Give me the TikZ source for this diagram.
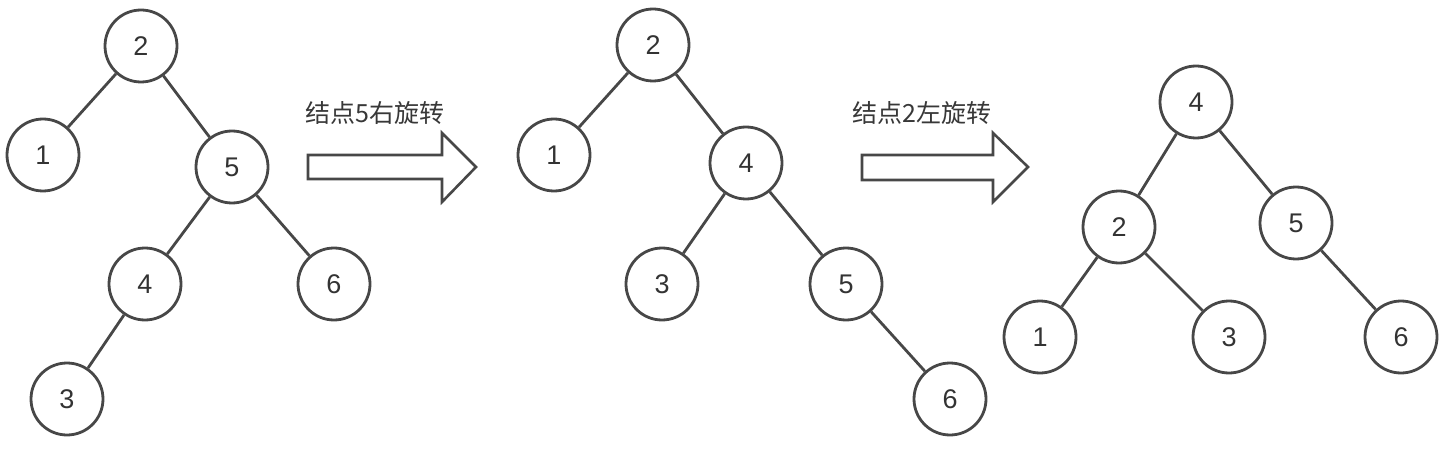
\documentclass[tikz,border=0pt]{standalone}
\usepackage{fontspec}
\setmainfont{Liberation Sans}
\newfontfamily\cjk{Noto Sans CJK SC}
\begin{document}
\begin{tikzpicture}[x=1pt,y=-1pt,
  tn/.style={circle,draw=black!72,line width=2.8pt,minimum size=72pt,inner sep=0pt,
    font=\fontsize{27pt}{27pt}\selectfont,text=black!80},
  edge/.style={draw=black!72,line width=2.8pt},
  bigarrow/.style={draw=black!72,line width=2.6pt,line join=miter,fill=white},
  lbl/.style={font=\cjk\fontsize{25pt}{25pt}\selectfont,text=black!78,inner sep=0pt}]
\useasboundingbox (0,0) rectangle (1445,449);
% tree 1
\node[tn] (a2) at (141,46) {2};
\node[tn] (a1) at (43,155) {1};
\node[tn] (a5) at (232,167) {5};
\node[tn] (a4) at (145,284) {4};
\node[tn] (a6) at (334,284) {6};
\node[tn] (a3) at (67,399) {3};
\draw[edge] (a2) -- (a1);
\draw[edge] (a2) -- (a5);
\draw[edge] (a5) -- (a4);
\draw[edge] (a5) -- (a6);
\draw[edge] (a4) -- (a3);
% arrow 1
\node[lbl] (l1) at (375,113) {结点5右旋转};
\draw[bigarrow] (308,155) -- (442,155) -- (442,133) -- (476,167) -- (442,202) -- (442,179) -- (308,179) -- cycle;
% tree 2
\node[tn] (b2) at (653,45) {2};
\node[tn] (b1) at (554,155) {1};
\node[tn] (b4) at (746,163) {4};
\node[tn] (b3) at (662,284) {3};
\node[tn] (b5) at (846,284) {5};
\node[tn] (b6) at (950,399) {6};
\draw[edge] (b2) -- (b1);
\draw[edge] (b2) -- (b4);
\draw[edge] (b4) -- (b3);
\draw[edge] (b4) -- (b5);
\draw[edge] (b5) -- (b6);
% arrow 2
\node[lbl] (l2) at (922,113) {结点2左旋转};
\draw[bigarrow] (862,155) -- (993,155) -- (993,133) -- (1028,167) -- (993,202) -- (993,180) -- (862,180) -- cycle;
% tree 3
\node[tn] (c4) at (1196,102) {4};
\node[tn] (c2) at (1119,227) {2};
\node[tn] (c5) at (1296,223) {5};
\node[tn] (c1) at (1040,337) {1};
\node[tn] (c3) at (1229,337) {3};
\node[tn] (c6) at (1401,337) {6};
\draw[edge] (c4) -- (c2);
\draw[edge] (c4) -- (c5);
\draw[edge] (c2) -- (c1);
\draw[edge] (c2) -- (c3);
\draw[edge] (c5) -- (c6);
\end{tikzpicture}
\end{document}
